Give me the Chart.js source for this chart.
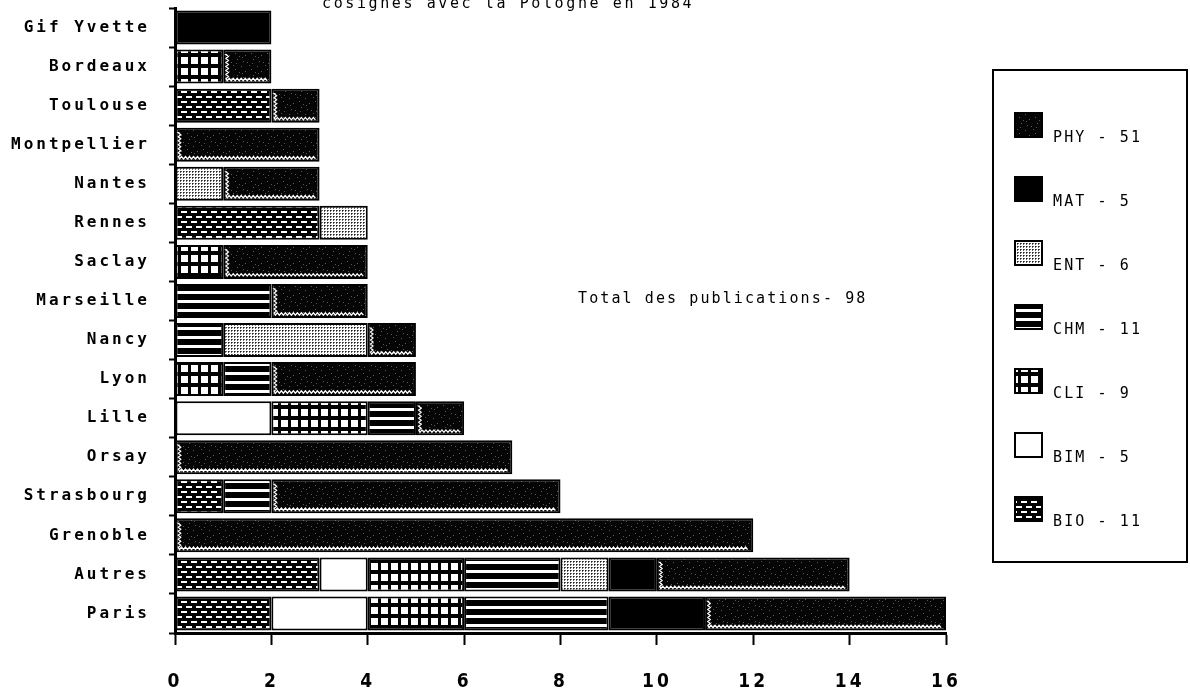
<!DOCTYPE html>
<html><head><meta charset="utf-8">
<script src="https://cdn.jsdelivr.net/npm/chart.js@4"></script>
<style>html,body{margin:0;padding:0;background:#fff;overflow:hidden}#wrap{position:relative;width:1190px;height:693px}</style>
</head><body><div id="wrap"><canvas id="c" width="1190" height="693"></canvas></div>
<script>
const categories = ['Gif Yvette','Bordeaux','Toulouse','Montpellier','Nantes','Rennes','Saclay','Marseille','Nancy','Lyon','Lille','Orsay','Strasbourg','Grenoble','Autres','Paris'];
const BIO = [0,0,2,0,0,3,0,0,0,0,0,0,1,0,3,2];
const BIM = [0,0,0,0,0,0,0,0,0,0,2,0,0,0,1,2];
const CLI = [0,1,0,0,0,0,1,0,0,1,2,0,0,0,2,2];
const CHM = [0,0,0,0,0,0,0,2,1,1,1,0,1,0,2,3];
const ENT = [0,0,0,0,1,1,0,0,3,0,0,0,0,0,1,0];
const MAT = [2,0,0,0,0,0,0,0,0,0,0,0,0,0,1,2];
const PHY = [0,1,1,3,2,0,3,2,1,3,1,7,6,12,4,5];
const seriesCodes = ['BIO','BIM','CLI','CHM','ENT','MAT','PHY'];
const seriesValues = [BIO,BIM,CLI,CHM,ENT,MAT,PHY];
const xTicks = [0,2,4,6,8,10,12,14,16];
const titleText = 'cosignes avec la Pologne en 1984';
const totalText = 'Total des publications- 98';

const mainCtx = document.getElementById('c').getContext('2d');
function mk(w,h,draw){const c=document.createElement('canvas');c.width=w;c.height=h;const g=c.getContext('2d');draw(g);return mainCtx.createPattern(c,'repeat');}
const patterns = {
  BIO: mk(10,10,g=>{g.fillStyle='#000';g.fillRect(0,0,10,10);g.fillStyle='#fff';g.fillRect(1,1,6,2);g.fillRect(6,6,6,2);g.fillRect(0,6,2,2);}),
  BIM: '#ffffff',
  CLI: mk(10,11,g=>{g.fillStyle='#000';g.fillRect(0,0,10,11);g.fillStyle='#fff';g.fillRect(1,2,7,7);}),
  CHM: mk(8,9,g=>{g.fillStyle='#000';g.fillRect(0,0,8,9);g.fillStyle='#fff';g.fillRect(0,3,8,3);}),
  ENT: mk(3,3,g=>{g.fillStyle='#fff';g.fillRect(0,0,3,3);g.fillStyle='#222';g.fillRect(0,0,1,1);g.fillStyle='#666';g.fillRect(1,0,1,1);g.fillRect(0,1,1,1);}),
  MAT: '#000000',
  PHY: mk(16,16,g=>{g.fillStyle='#050505';g.fillRect(0,0,16,16);g.fillStyle='#5a5a5a';
    const pts=[[1,2],[5,7],[9,1],[13,11],[3,13],[11,5],[7,14],[15,8],[2,9],[12,15]];
    pts.forEach(p=>g.fillRect(p[0],p[1],1,1));})
};

const datasets = seriesCodes.map((code,i)=>({
  label: code + ' - ' + seriesValues[i].reduce((a,b)=>a+b,0),
  code: code,
  data: seriesValues[i].map(v=>v===0?null:v),
  backgroundColor: patterns[code],
  borderColor: '#000',
  borderWidth: 2,
  borderSkipped: false,
  barPercentage: 0.87,
  categoryPercentage: 1.0
}));

const spacingPlugin = {
  id:'spacing',
  beforeLayout(chart){ chart.ctx.letterSpacing='3px'; },
  beforeDraw(chart){ chart.ctx.letterSpacing='3px'; }
};

const phyEdgePlugin = {
  id:'phyEdge',
  afterDatasetsDraw(chart){
    const idx = chart.data.datasets.findIndex(d=>d.code==='PHY');
    const meta = chart.getDatasetMeta(idx);
    const ctx = chart.ctx;
    ctx.save();
    ctx.strokeStyle='#fff';
    ctx.lineWidth=1.3;
    meta.data.forEach((el,j)=>{
      if (chart.data.datasets[idx].data[j]==null) return;
      const {x, base, y, height} = el.getProps(['x','base','y','height'], true);
      const top = y - height/2, bot = y + height/2;
      const lx = base + 4, by = bot - 4;
      ctx.beginPath();
      let k = 0;
      ctx.moveTo(lx, top + 5);
      for (let yy = top + 5; yy <= by; yy += 2) { ctx.lineTo(lx + ((k++ % 2) ? 1.2 : -1.2), yy); }
      for (let xx = lx; xx <= x - 4; xx += 2) { ctx.lineTo(xx, by + ((k++ % 2) ? 1.2 : -1.2)); }
      ctx.stroke();
    });
    ctx.restore();
  }
};

const decoPlugin = {
  id:'deco',
  afterDraw(chart){
    const ctx = chart.ctx;
    ctx.save();
    ctx.fillStyle='#000';
    ctx.font='15px "DejaVu Sans Mono"';
    ctx.textAlign='left';
    ctx.textBaseline='alphabetic';
    ctx.letterSpacing='2.6px';
    ctx.fillText(titleText, 322, 8);
    ctx.letterSpacing='2.1px';
    ctx.fillText(totalText, 578, 303);
    ctx.lineWidth=2;
    ctx.strokeStyle='#000';
    ctx.strokeRect(993, 70, 194, 492);
    const ds = chart.data.datasets.slice().reverse();
    ds.forEach((d,i)=>{
      const y = 113 + 64*i;
      ctx.fillStyle = d.backgroundColor;
      ctx.fillRect(1015, y, 27, 24);
      ctx.lineWidth = 2;
      ctx.strokeRect(1015, y, 27, 24);
      ctx.fillStyle='#000';
      ctx.fillText(d.label, 1053, y+29);
    });
    ctx.restore();
  }
};

new Chart(mainCtx, {
  type:'bar',
  data:{ labels: categories, datasets },
  options:{
    indexAxis:'y',
    responsive:false,
    animation:false,
    devicePixelRatio:1,
    layout:{ padding:{ top:8, right:244, left:0, bottom:0 } },
    plugins:{ legend:{display:false}, title:{display:false}, tooltip:{enabled:false} },
    scales:{
      y:{
        stacked:true,
        grid:{ display:true, drawOnChartArea:false, drawTicks:true, tickLength:6, tickWidth:2, tickColor:'#000', offset:true },
        border:{ display:true, color:'#000', width:3 },
        ticks:{ font:{ family:'DejaVu Sans Mono', size:16, weight:'bold' }, color:'#000', padding:19 },
        afterFit(s){ s.width = 175; s.paddingTop = 0; s.paddingBottom = 0; }
      },
      x:{
        stacked:true, min:0, max:16,
        afterBuildTicks(s){ s.ticks = xTicks.map(v=>({value:v})); },
        ticks:{ font:{ family:'DejaVu Sans Condensed', size:19, weight:'bold' }, color:'#000', padding:26 },
        grid:{ display:true, drawOnChartArea:false, tickLength:12, tickWidth:2, tickColor:'#000' },
        border:{ display:true, color:'#000', width:3 },
        afterFit(s){ s.height = 60; }
      }
    }
  },
  plugins:[spacingPlugin, phyEdgePlugin, decoPlugin]
});
</script></body></html>
